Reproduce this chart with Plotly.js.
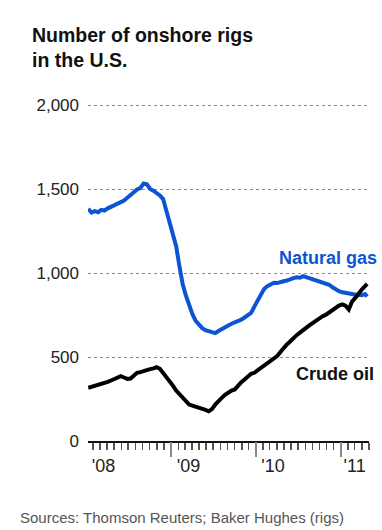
<!DOCTYPE html>
<html>
<head>
<meta charset="utf-8">
<script src="https://cdn.plot.ly/plotly-3.0.1.min.js"></script>
<style>
  html, body { margin: 0; padding: 0; background: #fff; }
  #chart { width: 382px; height: 530px; }
</style>
</head>
<body>
<div id="chart"></div>
<script>
// Weekly-ish readings of U.S. onshore rig counts, Jan 2008 - Apr 2011
const weeks = [
  '2008-01-11','2008-01-25','2008-02-08','2008-02-22','2008-03-07','2008-03-21',
  '2008-04-04','2008-04-18','2008-05-02','2008-05-16','2008-05-30','2008-06-13',
  '2008-06-27','2008-07-11','2008-07-25','2008-08-08','2008-08-22','2008-09-05',
  '2008-09-19','2008-10-03','2008-10-17','2008-10-31','2008-11-14','2008-11-28',
  '2008-12-12','2008-12-26','2009-01-09','2009-01-23','2009-02-06','2009-02-20',
  '2009-03-06','2009-03-20','2009-04-03','2009-04-17','2009-05-01','2009-05-15',
  '2009-05-29','2009-06-12','2009-06-26','2009-07-10','2009-07-24','2009-08-07',
  '2009-08-21','2009-09-04','2009-09-18','2009-10-02','2009-10-16','2009-10-30',
  '2009-11-13','2009-11-27','2009-12-11','2009-12-25','2010-01-08','2010-01-22',
  '2010-02-05','2010-02-19','2010-03-05','2010-03-19','2010-04-02','2010-04-16',
  '2010-04-30','2010-05-14','2010-05-28','2010-06-11','2010-06-25','2010-07-09',
  '2010-07-23','2010-08-06','2010-08-20','2010-09-03','2010-09-17','2010-10-01',
  '2010-10-15','2010-10-29','2010-11-12','2010-11-26','2010-12-10','2010-12-24',
  '2011-01-07','2011-01-21','2011-02-04','2011-02-18','2011-03-04','2011-03-18',
  '2011-04-01','2011-04-15','2011-04-24'
];

const naturalGas = [
  1382,1360,1368,1362,1376,1372,
  1385,1394,1400,1410,1418,1432,
  1448,1467,1478,1497,1505,1533,
  1528,1500,1490,1478,1462,1440,
  1370,1305,1240,1160,1040,935,
  865,805,755,715,690,672,
  660,652,648,642,655,668,
  674,688,698,705,712,722,
  735,750,762,800,835,875,
  905,922,935,942,940,948,
  951,955,965,970,975,972,
  981,975,968,961,958,950,
  947,942,930,915,900,892,
  885,880,878,875,872,870,
  868,875,860
];

const crudeOil = [
  317,322,330,334,340,345,
  352,360,368,380,386,378,
  370,372,392,406,410,418,
  426,428,432,439,430,406,
  380,352,330,300,277,255,
  235,217,210,205,198,195,
  185,177,190,217,240,257,
  275,290,300,307,330,350,
  366,385,400,406,420,435,
  445,460,475,485,505,530,
  555,575,592,614,630,645,
  664,675,690,704,715,728,
  743,752,765,783,795,806,
  813,805,783,830,852,880,
  902,922,935
];

// Year labels sit just right of each January tick
const yearLabelDates = ['2008-03-17','2009-03-17','2010-03-15','2011-03-01'];
const yearLabels = ["'08","'09","'10","'11"];
const yearTicks = ['2009-01-01','2010-01-01','2011-01-01'];

const yTicks = [0, 500, 1000, 1500, 2000];
const yTickText = ['0','500','1,000','1,500','2,000'];

const xRange = ['2008-01-10','2011-05-02'];
const FONT = 'Liberation Sans, Arial, sans-serif';
const BLUE = '#0b55d3';

// first-of-month positions for the short ticks
const monthTicks = [];
for (let y = 2008; y <= 2011; y++) {
  for (let m = 1; m <= 12; m++) {
    const d = y + '-' + String(m).padStart(2, '0') + '-01';
    if (d > xRange[0] && d < xRange[1]) monthTicks.push(d);
  }
}

const traces = [
  {
    x: weeks, y: naturalGas, type: 'scatter', mode: 'lines',
    name: 'Natural gas', line: {color: BLUE, width: 4}, hoverinfo: 'skip'
  },
  {
    x: weeks, y: crudeOil, type: 'scatter', mode: 'lines',
    name: 'Crude oil', line: {color: '#000', width: 4}, hoverinfo: 'skip'
  },
  // invisible carriers so the overlay axes get drawn
  {
    x: yearLabelDates, y: [0,0,0,0], xaxis: 'x2', type: 'scatter', mode: 'markers',
    marker: {opacity: 0}, showlegend: false, hoverinfo: 'skip'
  },
  {
    x: yearLabelDates, y: [0,0,0,0], xaxis: 'x3', type: 'scatter', mode: 'markers',
    marker: {opacity: 0}, showlegend: false, hoverinfo: 'skip'
  }
];

const layout = {
  width: 382, height: 530,
  margin: {l: 88, r: 13, t: 103, b: 89},
  paper_bgcolor: '#fff', plot_bgcolor: '#fff',
  showlegend: false,
  font: {family: FONT, color: '#222'},
  title: {
    text: 'Number of onshore rigs<br>in the U.S.',
    font: {family: FONT, size: 19.5, weight: 'bold', color: '#111'},
    x: 32/382, xref: 'container', xanchor: 'left',
    y: 1 - 42/530, yref: 'container', yanchor: 'top'
  },
  // main axis: baseline and monthly short ticks
  xaxis: {
    type: 'date', range: xRange, fixedrange: true,
    showgrid: false, zeroline: false,
    showline: true, linecolor: '#111', linewidth: 2,
    tickmode: 'array', tickvals: monthTicks, showticklabels: false,
    ticks: 'outside', ticklen: 7, tickwidth: 1.5, tickcolor: '#555'
  },
  // long January ticks
  xaxis2: {
    type: 'date', range: xRange, overlaying: 'x', anchor: 'y', side: 'bottom',
    fixedrange: true, showgrid: false, zeroline: false, showline: false,
    tickmode: 'array', tickvals: yearTicks, showticklabels: false,
    ticks: 'outside', ticklen: 15, tickwidth: 1.5, tickcolor: '#888'
  },
  // year labels
  xaxis3: {
    type: 'date', range: xRange, overlaying: 'x', anchor: 'y', side: 'bottom',
    fixedrange: true, showgrid: false, zeroline: false, showline: false,
    tickmode: 'array', tickvals: yearLabelDates, ticktext: yearLabels,
    ticks: '', ticklabelstandoff: 12,
    tickfont: {family: FONT, size: 18, color: '#222'}
  },
  yaxis: {
    range: [0, 2012], fixedrange: true,
    tickmode: 'array', tickvals: yTicks, ticktext: yTickText,
    ticks: '', ticklabelstandoff: 8,
    tickfont: {family: FONT, size: 17, color: '#222'},
    showgrid: true, gridcolor: '#8a8a8a', gridwidth: 1, griddash: 'dot',
    zeroline: false, showline: false
  },
  annotations: [
    {
      text: '<b>Natural gas</b>', xref: 'paper', yref: 'paper',
      x: (327.5 - 88) / 281, y: (441 - 258) / 338,
      xanchor: 'center', yanchor: 'middle', showarrow: false,
      font: {family: FONT, size: 18, color: BLUE}
    },
    {
      text: '<b>Crude oil</b>', xref: 'paper', yref: 'paper',
      x: (335 - 88) / 281, y: (441 - 374) / 338,
      xanchor: 'center', yanchor: 'middle', showarrow: false,
      font: {family: FONT, size: 18, color: '#111'}
    },
    {
      text: 'Sources: Thomson Reuters; Baker Hughes (rigs)',
      xref: 'paper', yref: 'paper',
      x: (18 - 88) / 281, y: (441 - 517) / 338,
      xanchor: 'left', yanchor: 'middle', showarrow: false,
      font: {family: FONT, size: 15, color: '#555'}
    }
  ]
};

Plotly.newPlot('chart', traces, layout, {displayModeBar: false, staticPlot: true});
</script>
</body>
</html>
